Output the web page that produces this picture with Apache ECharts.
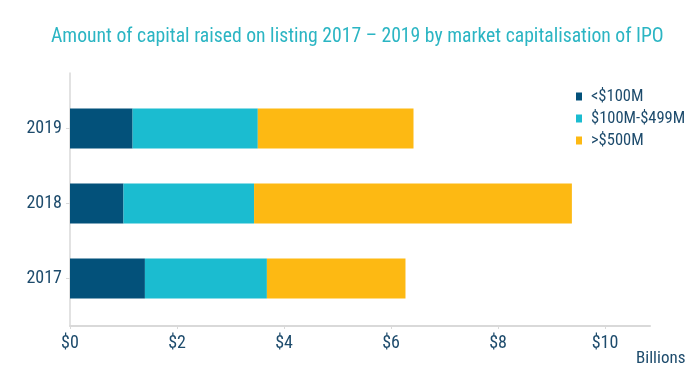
<!DOCTYPE html>
<html>
<head>
<meta charset="utf-8">
<script src="https://cdn.jsdelivr.net/npm/echarts@6/dist/echarts.min.js"></script>
<style>
html,body{margin:0;padding:0;background:#fff;}
#c{width:700px;height:388px;}
</style>
</head>
<body>
<div id="c"></div>
<script>
var years = ['2017', '2018', '2019'];
var seriesNames = ['<$100M', '$100M-$499M', '>$500M'];
var small = [1.40, 1.00, 1.17];
var mid = [2.28, 2.44, 2.34];
var large = [2.59, 5.94, 2.91];
var xTicks = [0, 2, 4, 6, 8, 10];
var colors = ['#03517a', '#1bbcd0', '#fdb913'];

var FONT = '"Roboto Condensed", "Arial Narrow", "Liberation Sans Narrow", sans-serif';
var TXT = '#1d4b6c';
var XMAX = 10.84;

var chart = echarts.init(document.getElementById('c'), null, {renderer: 'canvas'});
var data = [small, mid, large];
chart.setOption({
  animation: false,
  backgroundColor: '#ffffff',
  title: {
    text: 'Amount of capital raised on listing 2017 – 2019 by market capitalisation of IPO',
    left: 46,
    top: 22,
    textStyle: {color: '#2bb5c3', fontFamily: FONT, fontSize: 19.7, fontWeight: 'normal'}
  },
  legend: {
    orient: 'vertical',
    left: 571,
    top: 83,
    itemGap: 5,
    itemWidth: 6,
    itemHeight: 8,
    icon: 'rect',
    textStyle: {color: TXT, fontFamily: FONT, fontSize: 16.5, padding: [0, 0, 0, 4]},
    data: seriesNames
  },
  grid: [
    {left: 70, width: 580, top: 91, height: 225},
    {left: 70, width: 580, top: 73, height: 253}
  ],
  xAxis: [
    {gridIndex: 0, type: 'value', min: 0, max: XMAX, show: false},
    {gridIndex: 1, type: 'value', min: 0, max: XMAX, interval: 2,
      axisLine: {show: true, lineStyle: {color: '#d9d9d9', width: 2}},
      axisTick: {show: true, length: 3, lineStyle: {color: '#d9d9d9'}},
      splitLine: {show: false},
      axisLabel: {
        margin: 8, color: TXT, fontFamily: FONT, fontSize: 18,
        showMaxLabel: false,
        formatter: function (v) { return xTicks.indexOf(v) >= 0 ? '$' + v : ''; }
      },
      name: 'Billions', nameLocation: 'end', nameGap: -14,
      nameTextStyle: {color: TXT, fontFamily: FONT, fontSize: 17, verticalAlign: 'top', padding: [24, 0, 0, 0]}
    }
  ],
  yAxis: [
    {gridIndex: 0, type: 'category', data: years,
      axisLine: {show: false},
      axisTick: {show: true, alignWithLabel: true, length: 4, lineStyle: {color: '#d9d9d9'}},
      axisLabel: {margin: 8, color: TXT, fontFamily: FONT, fontSize: 18}
    },
    {gridIndex: 1, type: 'value', min: 0, max: 1,
      axisLine: {show: true, lineStyle: {color: '#d9d9d9', width: 1.5}},
      axisTick: {show: false}, axisLabel: {show: false}, splitLine: {show: false}
    }
  ],
  series: seriesNames.map(function (n, i) {
    return {
      name: n, type: 'bar', stack: 'total', xAxisIndex: 0, yAxisIndex: 0,
      barWidth: 40, itemStyle: {color: colors[i]}, data: data[i]
    };
  })
});
</script>
</body>
</html>
